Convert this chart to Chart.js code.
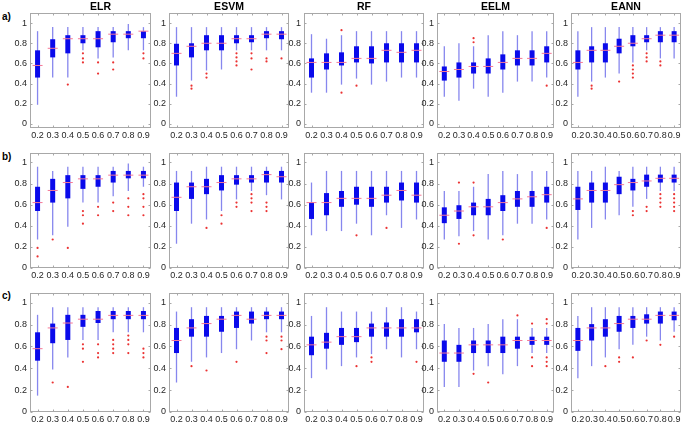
<!DOCTYPE html>
<html>
<head>
<meta charset="utf-8">
<script src="https://cdn.jsdelivr.net/npm/chart.js@4.4.1/dist/chart.umd.min.js"></script>
<style>
  body { margin: 0; background: #fff; width: 690px; height: 429px; overflow: hidden; position: relative; }
  .panel { position: absolute; }
  .rowLabel { position: absolute; font: bold 10px 'Liberation Sans', Arial, sans-serif; color: #000; }
</style>
</head>
<body>
<div class="rowLabel" style="left:2px;top:11px">a)</div>
<div class="rowLabel" style="left:2px;top:151px">b)</div>
<div class="rowLabel" style="left:2px;top:290px">c)</div>
<script>
// x categories and y ticks
const xLabels = ['0.2', '0.3', '0.4', '0.5', '0.6', '0.7', '0.8', '0.9'];
const yTicks = [0, 0.2, 0.4, 0.6, 0.8, 1];
const models = ['ELR', 'ESVM', 'RF', 'EELM', 'EANN'];

// each box: [lower whisker, q1, median, q3, upper whisker]
// row a)
const ELR_a = [[0.19,0.46,0.58,0.73,0.92],[0.46,0.66,0.75,0.84,0.96],[0.46,0.70,0.845,0.88,0.96],[0.73,0.80,0.845,0.88,0.96],
               [0.65,0.76,0.845,0.92,0.96],[0.66,0.81,0.89,0.92,0.96],[0.73,0.85,0.89,0.92,0.99],[0.73,0.85,0.92,0.92,0.96]];
const ELR_a_out = [[],[],[0.39],[0.70,0.65,0.61],[0.61,0.50],[0.61,0.54],[],[0.70,0.65]];
const ESVM_a = [[0.27,0.58,0.70,0.795,0.96],[0.43,0.66,0.77,0.80,0.96],[0.53,0.73,0.80,0.88,0.96],[0.54,0.73,0.80,0.88,0.96],
                [0.73,0.80,0.845,0.88,0.96],[0.73,0.81,0.845,0.88,0.96],[0.73,0.85,0.89,0.92,0.96],[0.73,0.84,0.89,0.92,0.96]];
const ESVM_a_out = [[],[0.38,0.35],[0.50,0.46],[],[0.70,0.66,0.62,0.58],[0.70,0.65,0.54],[0.65,0.62],[0.65]];
const RF_a = [[0.31,0.46,0.61,0.65,0.89],[0.31,0.54,0.61,0.70,0.845],[0.39,0.58,0.61,0.71,0.88],[0.45,0.61,0.65,0.77,0.92],
              [0.39,0.60,0.65,0.77,0.92],[0.42,0.61,0.73,0.80,0.92],[0.46,0.61,0.71,0.80,0.92],[0.46,0.61,0.73,0.80,0.92]];
const RF_a_out = [[],[],[0.93,0.31],[0.38],[],[],[],[]];
const EELM_a = [[0.27,0.43,0.52,0.57,0.77],[0.23,0.46,0.54,0.61,0.80],[0.35,0.50,0.57,0.61,0.77],[0.27,0.50,0.57,0.65,0.88],
                [0.31,0.54,0.61,0.69,0.92],[0.42,0.58,0.65,0.73,0.88],[0.42,0.58,0.65,0.73,0.92],[0.46,0.61,0.70,0.77,0.92]];
const EELM_a_out = [[],[],[0.85,0.81],[],[],[],[],[0.38]];
const EANN_a = [[0.27,0.54,0.61,0.73,0.92],[0.42,0.61,0.73,0.77,0.96],[0.46,0.61,0.73,0.80,0.96],[0.50,0.70,0.77,0.845,0.96],
                [0.61,0.77,0.80,0.88,0.96],[0.73,0.81,0.845,0.88,0.96],[0.65,0.81,0.88,0.92,0.96],[0.65,0.81,0.88,0.92,0.96]];
const EANN_a_out = [[],[0.38,0.35],[],[0.42],[0.58,0.54,0.50,0.46],[0.70,0.66,0.62],[0.62,0.58],[]];

// row b)
const ELR_b = [[0.27,0.54,0.62,0.77,0.96],[0.31,0.62,0.735,0.845,0.92],[0.39,0.66,0.81,0.88,0.96],[0.62,0.75,0.845,0.88,0.96],
               [0.62,0.77,0.845,0.88,0.96],[0.68,0.81,0.88,0.92,0.96],[0.73,0.85,0.88,0.92,0.99],[0.77,0.85,0.88,0.92,0.96]];
const ELR_b_out = [[0.19,0.11],[0.27],[0.19],[0.54,0.50,0.42],[0.58,0.50],[0.62,0.54],[0.66,0.58,0.50],[0.70,0.66,0.58,0.50]];
const ESVM_b = [[0.23,0.54,0.67,0.81,0.92],[0.42,0.655,0.77,0.81,0.92],[0.46,0.70,0.77,0.845,0.96],[0.54,0.735,0.81,0.88,0.96],
                [0.65,0.79,0.845,0.88,0.96],[0.73,0.81,0.845,0.88,0.96],[0.69,0.81,0.885,0.92,0.96],[0.65,0.81,0.865,0.92,0.96]];
const ESVM_b_out = [[],[],[0.38],[0.50,0.42],[0.62,0.58],[0.70,0.66,0.62,0.54],[0.62,0.58,0.54],[]];
const RF_b = [[0.31,0.465,0.62,0.62,0.81],[0.35,0.50,0.62,0.71,0.92],[0.35,0.58,0.66,0.73,0.92],[0.42,0.60,0.66,0.77,0.92],
              [0.31,0.58,0.66,0.77,0.92],[0.50,0.62,0.69,0.77,0.92],[0.38,0.64,0.735,0.81,0.92],[0.46,0.62,0.69,0.81,0.92]];
const RF_b_out = [[],[],[],[0.31],[],[0.38],[],[]];
const EELM_b = [[0.27,0.425,0.50,0.575,0.73],[0.30,0.465,0.54,0.595,0.73],[0.35,0.50,0.58,0.62,0.77],[0.27,0.50,0.58,0.655,0.89],
                [0.31,0.54,0.62,0.69,0.92],[0.42,0.58,0.655,0.73,0.89],[0.42,0.58,0.675,0.73,0.92],[0.46,0.62,0.695,0.77,0.92]];
const EELM_b_out = [[],[0.81,0.23],[0.81,0.31],[],[0.27],[],[],[0.38]];
const EANN_b = [[0.27,0.55,0.655,0.77,0.92],[0.38,0.62,0.735,0.81,0.92],[0.46,0.62,0.735,0.81,0.96],[0.50,0.70,0.79,0.865,0.92],
                [0.58,0.735,0.81,0.845,0.96],[0.655,0.77,0.825,0.885,0.96],[0.73,0.81,0.85,0.885,0.96],[0.73,0.81,0.85,0.885,0.96]];
const EANN_b_out = [[],[],[],[],[0.54,0.50],[0.58,0.54],[0.70,0.66,0.62,0.58],[0.70,0.66,0.62,0.58,0.54]];

// row c)
const ELR_c = [[0.15,0.47,0.58,0.73,0.89],[0.39,0.63,0.77,0.81,0.96],[0.50,0.66,0.815,0.89,0.96],[0.66,0.78,0.85,0.89,0.96],
               [0.66,0.815,0.85,0.925,0.96],[0.73,0.85,0.885,0.925,0.96],[0.73,0.85,0.885,0.925,0.96],[0.73,0.85,0.885,0.925,0.96]];
const ELR_c_out = [[],[0.27],[0.23],[0.62,0.58,0.46],[0.62,0.54,0.50],[0.66,0.62,0.58,0.54],[0.70,0.66,0.62,0.54],[0.58,0.54,0.50]];
const ESVM_c = [[0.27,0.54,0.655,0.77,0.92],[0.46,0.69,0.77,0.85,0.96],[0.50,0.69,0.81,0.88,0.96],[0.54,0.735,0.85,0.88,0.96],
                [0.575,0.77,0.885,0.92,0.96],[0.655,0.81,0.85,0.92,0.96],[0.73,0.85,0.885,0.92,0.96],[0.73,0.85,0.885,0.92,0.96]];
const ESVM_c_out = [[],[0.42],[0.38],[],[0.46],[],[0.69,0.655,0.54],[0.69,0.655,0.575]];
const RF_c = [[0.31,0.52,0.615,0.69,0.88],[0.39,0.58,0.64,0.725,0.96],[0.42,0.615,0.69,0.77,0.92],[0.50,0.64,0.69,0.77,0.92],
              [0.53,0.69,0.77,0.81,0.92],[0.575,0.69,0.77,0.82,0.96],[0.50,0.69,0.77,0.85,0.96],[0.575,0.73,0.77,0.85,0.92]];
const RF_c_out = [[],[],[],[0.42],[0.50,0.46],[],[],[0.46]];
const EELM_c = [[0.23,0.46,0.54,0.655,0.805],[0.23,0.46,0.54,0.615,0.77],[0.38,0.54,0.615,0.655,0.77],[0.42,0.54,0.615,0.655,0.805],
                [0.345,0.54,0.615,0.69,0.85],[0.42,0.58,0.655,0.69,0.85],[0.54,0.615,0.655,0.69,0.77],[0.54,0.615,0.655,0.69,0.77]];
const EELM_c_out = [[],[],[0.35],[0.27],[],[0.885],[0.81,0.50,0.42],[0.85,0.81,0.50,0.46,0.42]];
const EANN_c = [[0.31,0.56,0.655,0.77,0.88],[0.42,0.655,0.77,0.805,0.96],[0.50,0.69,0.77,0.85,0.96],[0.575,0.735,0.81,0.88,0.96],
                [0.615,0.77,0.85,0.88,0.96],[0.69,0.81,0.85,0.895,0.96],[0.655,0.81,0.885,0.92,0.96],[0.735,0.84,0.885,0.92,0.96]];
const EANN_c_out = [[],[],[0.42],[0.50,0.46],[0.50],[0.655],[0.615],[0.69]];

const boxes = [
  [ELR_a, ESVM_a, RF_a, EELM_a, EANN_a],
  [ELR_b, ESVM_b, RF_b, EELM_b, EANN_b],
  [ELR_c, ESVM_c, RF_c, EELM_c, EANN_c]
];
const outliers = [
  [ELR_a_out, ESVM_a_out, RF_a_out, EELM_a_out, EANN_a_out],
  [ELR_b_out, ESVM_b_out, RF_b_out, EELM_b_out, EANN_b_out],
  [ELR_c_out, ESVM_c_out, RF_c_out, EELM_c_out, EANN_c_out]
];

// layout of the panels (page pixels)
const frameLeft = [30, 169, 304, 437, 571];
const frameWidth = [123, 122, 122, 119, 112];
const frameTop = [13, 153, 293];
const frameHeight = [115, 115, 119];
const yMin = [-0.04, 0, 0];
const yMax = [1.1, 1.09, 1.09];
const titleShift = [10, 0, 0, 0, 0];
const padTop = 14, axisW = 30, axisH = 22, padRight = 4;

const fontFamily = "'Liberation Sans', Arial, sans-serif";
const boxColor = 'rgb(10,10,235)';
const whiskerColor = 'rgb(135,135,238)';
const medianColor = 'rgb(245,120,150)';
const outlierColor = 'rgb(235,50,50)';

Chart.defaults.font.family = fontFamily;

// draws the box frame, small inward ticks and the column title
const framePlugin = {
  id: 'panelFrame',
  afterDatasetsDraw(chart, args, opts) {
    const {ctx, chartArea: a, scales: {x, y}} = chart;
    ctx.save();
    ctx.strokeStyle = '#a8a8a8';
    ctx.lineWidth = 1;
    const L = Math.round(a.left) + 0.5, R = Math.round(a.right) - 0.5;
    const T = Math.round(a.top) + 0.5, B = Math.round(a.bottom) - 0.5;
    ctx.strokeRect(L, T, R - L, B - T);
    ctx.beginPath();
    yTicks.forEach(v => {
      const py = Math.round(y.getPixelForValue(v)) + 0.5;
      ctx.moveTo(L, py); ctx.lineTo(L + 2, py);
      ctx.moveTo(R, py); ctx.lineTo(R - 2, py);
    });
    xLabels.forEach((l, i) => {
      const px = Math.round(x.getPixelForValue(i)) + 0.5;
      ctx.moveTo(px, B); ctx.lineTo(px, B - 2);
      ctx.moveTo(px, T); ctx.lineTo(px, T + 2);
    });
    ctx.stroke();
    if (opts.text) {
      ctx.fillStyle = '#000';
      ctx.font = 'bold 10.5px ' + fontFamily;
      ctx.textAlign = 'center';
      ctx.textBaseline = 'bottom';
      ctx.fillText(opts.text, (a.left + a.right) / 2 + (opts.dx || 0), a.top - 1);
    }
    ctx.restore();
  }
};

for (let r = 0; r < 3; r++) {
  for (let c = 0; c < 5; c++) {
    const stats = boxes[r][c];
    const outPts = outliers[r][c].flatMap((vals, i) => vals.map(v => ({x: xLabels[i], y: v})));

    const wrap = document.createElement('div');
    wrap.className = 'panel';
    const W = axisW + frameWidth[c] + padRight;
    const H = padTop + frameHeight[r] + axisH;
    wrap.style.left = (frameLeft[c] - axisW) + 'px';
    wrap.style.top = (frameTop[r] - padTop) + 'px';
    const canvas = document.createElement('canvas');
    canvas.width = W;
    canvas.height = H;
    wrap.appendChild(canvas);
    document.body.appendChild(wrap);

    const chart = new Chart(canvas, {
      type: 'bar',
      data: {
        labels: xLabels,
        datasets: [
          { type: 'line', label: 'outliers', data: outPts, showLine: false, pointStyle: 'circle',
            pointRadius: 1.1, pointBackgroundColor: outlierColor, pointBorderWidth: 0, order: 0 },
          { type: 'line', label: 'median', data: stats.map(s => s[2]), showLine: false, pointStyle: 'line',
            pointRadius: 5, pointBorderColor: medianColor, pointBorderWidth: 1, order: 1 },
          { type: 'bar', label: 'box', data: stats.map(s => [s[1], s[3]]), backgroundColor: boxColor,
            barThickness: 5, inflateAmount: 0, grouped: false, order: 2 },
          { type: 'bar', label: 'whisker', data: stats.map(s => [s[0], s[4]]), backgroundColor: whiskerColor,
            barThickness: 1.3, inflateAmount: 0, grouped: false, order: 3 }
        ]
      },
      options: {
        responsive: false,
        maintainAspectRatio: false,
        animation: false,
        devicePixelRatio: 1,
        events: [],
        layout: { padding: { top: padTop, right: padRight, left: 0, bottom: 0 } },
        plugins: {
          legend: { display: false },
          tooltip: { enabled: false },
          panelFrame: { text: r === 0 ? models[c] : '', dx: titleShift[c] }
        },
        scales: {
          x: {
            type: 'category',
            offset: true,
            grid: { display: false, drawTicks: false },
            border: { display: false },
            ticks: { font: { size: 9 }, color: '#262626', padding: 2, maxRotation: 0, autoSkip: false },
            afterFit: s => { s.height = axisH; }
          },
          y: {
            min: yMin[r],
            max: yMax[r],
            grid: { display: false, drawTicks: false },
            border: { display: false },
            afterBuildTicks: s => { s.ticks = yTicks.map(v => ({value: v})); },
            ticks: { font: { size: 9 }, color: '#262626', padding: 3,
                     callback: v => String(Math.round(v * 10) / 10) },
            afterFit: s => { s.width = axisW; }
          }
        }
      },
      plugins: [framePlugin]
    });

    // line the plot area up with the frame position
    wrap.style.left = (frameLeft[c] - chart.chartArea.left) + 'px';
    wrap.style.top = (frameTop[r] - chart.chartArea.top) + 'px';
  }
}
</script>
</body>
</html>
